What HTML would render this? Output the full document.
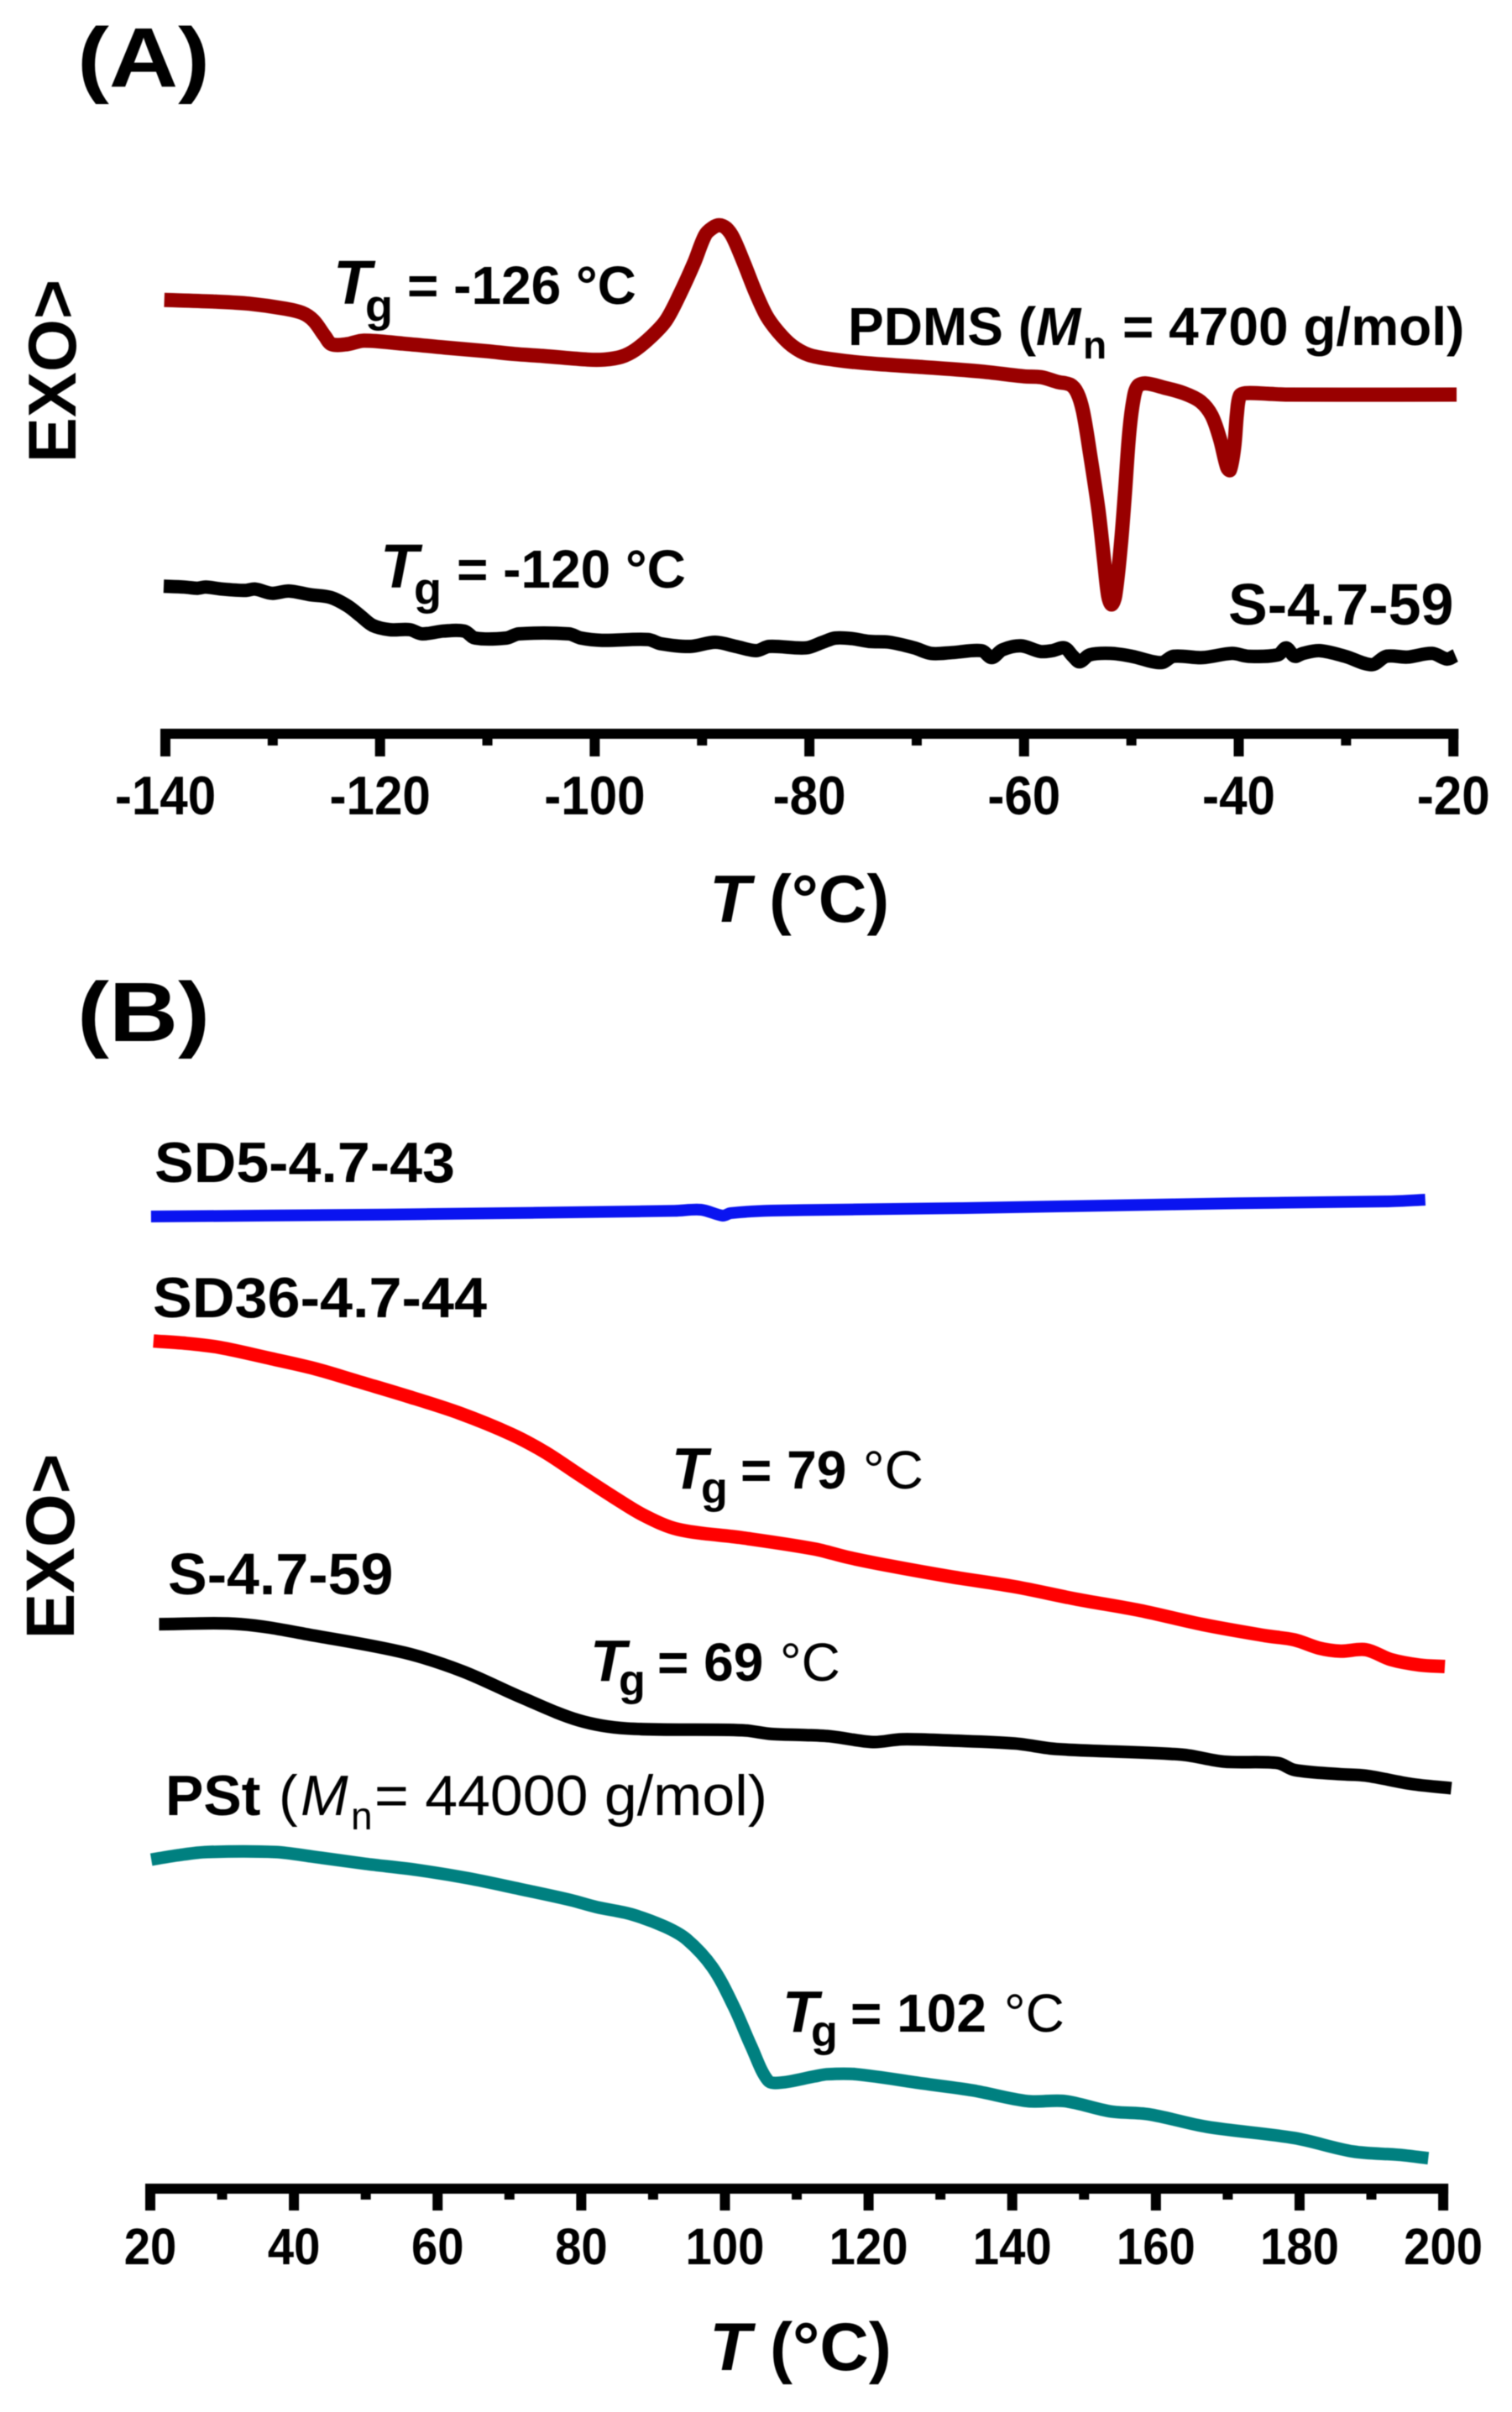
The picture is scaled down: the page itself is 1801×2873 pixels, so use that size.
<!DOCTYPE html>
<html lang="en">
<head>
<meta charset="utf-8">
<title>DSC thermograms</title>
<style>
html,body{margin:0;padding:0;background:#fff;}
svg{display:block;filter:blur(0.6px);}
text{font-family:"Liberation Sans",Arial,sans-serif;fill:#000;}
.b{font-weight:700;}
.i{font-style:italic;}
</style>
</head>
<body>
<svg id="chart" xmlns="http://www.w3.org/2000/svg" width="1801" height="2873" viewBox="0 0 1801 2873">
<rect x="0" y="0" width="1801" height="2873" fill="#fff"/>
<g id="marks"></g>

<text class="b" x="92" y="103" font-size="100" textLength="158" lengthAdjust="spacingAndGlyphs">(A)</text>
<text class="b" x="92" y="1240" font-size="100" textLength="158" lengthAdjust="spacingAndGlyphs">(B)</text>

<text class="b" transform="translate(90,442) rotate(-90)" text-anchor="middle" font-size="81">EXO&gt;</text>
<text class="b" transform="translate(88,1842) rotate(-90)" text-anchor="middle" font-size="82">EXO&gt;</text>

<text class="b" x="845" y="1098" font-size="80"><tspan class="i">T</tspan> (°C)</text>
<text class="b" x="845" y="2823" font-size="81"><tspan class="i">T</tspan> (°C)</text>

<text class="b" font-size="64"><tspan class="i" x="397" y="362" font-size="74">T</tspan><tspan x="435" y="383" font-size="54">g</tspan><tspan x="485" y="362">= -126 °C</tspan></text>
<text class="b" font-size="64"><tspan class="i" x="453" y="700" font-size="74">T</tspan><tspan x="493" y="720" font-size="54">g</tspan><tspan x="544" y="700">= -120 °C</tspan></text>
<text class="b" font-size="64"><tspan x="1010" y="411">PDMS (</tspan><tspan class="i" x="1234" y="411">M</tspan><tspan x="1290" y="427" font-size="46">n</tspan><tspan x="1337" y="411">= 4700 g/mol)</tspan></text>
<text class="b" x="1463" y="744" font-size="70">S-4.7-59</text>

<text class="b" x="184" y="1408" font-size="68" textLength="358" lengthAdjust="spacingAndGlyphs">SD5-4.7-43</text>
<text class="b" x="182" y="1569" font-size="68" textLength="398" lengthAdjust="spacingAndGlyphs">SD36-4.7-44</text>
<text class="b" x="200" y="1899" font-size="70">S-4.7-59</text>

<text class="b" font-size="64"><tspan class="i" x="800" y="1773" font-size="70">T</tspan><tspan x="835" y="1790" font-size="52">g</tspan><tspan x="882" y="1773">= 79</tspan><tspan x="1028" y="1773" font-weight="400">°C</tspan></text>
<text class="b" font-size="64"><tspan class="i" x="703" y="2002" font-size="70">T</tspan><tspan x="737" y="2019" font-size="52">g</tspan><tspan x="783" y="2002">= 69</tspan><tspan x="929" y="2002" font-weight="400">°C</tspan></text>
<text class="b" font-size="64"><tspan class="i" x="932" y="2420" font-size="70">T</tspan><tspan x="966" y="2437" font-size="52">g</tspan><tspan x="1013" y="2420">= 102</tspan><tspan x="1196" y="2420" font-weight="400">°C</tspan></text>

<text font-size="68"><tspan class="b" x="197" y="2162">PSt</tspan><tspan x="332" y="2162">(</tspan><tspan class="i" x="358" y="2162">M</tspan><tspan x="418" y="2179" font-size="46">n</tspan><tspan x="446" y="2162" textLength="468" lengthAdjust="spacingAndGlyphs">= 44000 g/mol)</tspan></text>
</svg>

<script>
// Panel A: temperature (deg C) and signal (a.u., height above the axis line)
const pdmsTemp = [-140.1,-135.33,-132.2,-128.81,-127.25,-126.21,-125.16,-124.51,-123.08,-121.52,-117.86,-113.95,-110.04,-107.46,-104.83,-100.66,-99.09,-97.53,-96.22,-94.66,-93.36,-92.05,-90.75,-89.71,-89.06,-88.4,-87.75,-87.1,-86.05,-85.01,-83.97,-82.93,-81.63,-80.06,-77.72,-74.59,-69.37,-64.15,-59.98,-58.42,-56.86,-55.68,-55.03,-54.51,-53.86,-53.08,-52.55,-52.16,-51.85,-51.51,-50.99,-50.6,-50.21,-49.82,-49.42,-48.64,-46.95,-45.12,-43.56,-42.52,-41.74,-41.08,-40.82,-40.43,-40.17,-39.91,-39.39,-37.3,-35.47,-19.7];
const pdmsSignal = [516.7,514.7,512.3,506.3,501.3,492.3,474,464,464,468.3,464.7,460,455.7,452.3,450,445.7,445.7,449,457.3,474,492.3,524,560.7,594,602.3,605.7,602.3,590.7,559,525.7,497.3,479,462.3,451.3,445.7,441.3,436.7,431.7,425.7,424.7,419,415.7,405.7,384,334,267.3,207.3,164,154,164,224,287.3,357.3,397.3,414,417.3,412.3,405.7,395.7,379,350.7,317.3,314,340.7,380.7,402.3,405.7,405,404,404];

const sAgedTemp = [-140.16,-138.2,-137.03,-136.25,-134.68,-132.57,-131.63,-130.07,-128.5,-126.55,-124.59,-123.03,-121.85,-120.68,-119.12,-117.24,-116.07,-114.11,-112.16,-111.14,-108.24,-107.07,-102.42,-101.28,-99.33,-95.03,-93.85,-91.12,-88.77,-86.85,-84.94,-83.76,-80.32,-78.76,-77.58,-76.02,-74.45,-72.54,-70.23,-68.67,-66.71,-63.97,-63.0,-62.02,-60.3,-58.5,-57.36,-56.23,-55.45,-54.82,-53.88,-51.93,-49.97,-47.24,-46.06,-43.36,-40.62,-39.1,-36.36,-35.58,-34.8,-34.02,-32.45,-30.11,-27.6,-26.23,-24.32,-21.97,-20.59,-19.81];
const sAgedSignal = [175.7,174.7,173.3,174.7,172.3,170.7,172.3,167.3,170,165.7,162.3,152.3,140.7,129,124,124,119,122.3,122.3,114,114,119,119,114,111.3,112.3,107.3,104,109,104,99,104,102.3,109,114,113.3,110,109,102.3,95.7,96.7,99,90.7,100,104.7,98,99,102.3,92.3,85.7,94,95.7,92.3,84.7,92.3,90.7,95.7,92.3,94,102.3,92.3,95.7,99,92.3,82.3,92.3,91.3,95.7,89,93.3];

// Panel B
const sd5Temp = [20.1,52.8,93,96.7,99.7,100.8,106.5,133.4,169.6,192.4,197.5];
const sd5Signal = [1158,1160.3,1164.7,1166,1159,1162,1165,1168,1173.5,1176,1178];

const sd36Temp = [20.44,24.91,29.68,36.83,42.79,48.75,55.88,63.08,70.23,75,79.72,84.52,88.72,93.49,102.4,112.45,117.13,122.91,131.62,140.38,149.03,157.79,166.52,175.21,179.3,182.81,185.73,189.24,192.69,196.72,200.23];
const sd36Signal = [1009.7,1007,1002,988.7,977,962,943.7,923.7,898.7,877,850.3,823.7,802,785.3,775.3,762,752,742,728.7,717,702,688.7,672,658.7,653.7,643.7,640.3,642,630.3,623.7,622];

const sBTemp = [21.23,32.62,43.38,55.41,63.48,71.54,79.61,86.34,102.45,106.49,111.28,114.79,120.58,124.65,131.62,140.36,146.17,163.62,169.43,176.97,179.3,185.71,189.2,195.6,201.12];
const sBSignal = [672.4,672.4,658,638.4,616.3,585.6,558,548.2,546,541.6,540.3,538.7,532,535.3,533.7,530.3,523.7,517,508.7,507,498.7,493.7,492,482,477];

const pstTemp = [20.14,23.72,27.89,37.41,42.79,49.92,57.11,64.27,71.43,78.56,82.18,86.92,91.69,94.68,98.26,101.23,103.63,106.01,107.78,112.45,114.2,118.26,127.56,134.54,142.1,147.34,153.71,158.97,167.1,179.3,187.45,193.86,197.92];
const pstSignal = [392,397,401,401,395.3,387,379.7,369.7,357,343.7,335.3,327,312,297,263.7,217,170.3,128.7,126.3,133.7,136.3,136.3,125.3,117,104.3,104.3,92,88.7,73.7,60.3,44.3,40.3,36.3];

// Tick values
const majorTicksA = [-140,-120,-100,-80,-60,-40,-20];
const minorTicksA = [-130,-110,-90,-70,-50,-30];
const tickLabelsA = ["-140","-120","-100","-80","-60","-40","-20"];
const majorTicksB = [20,40,60,80,100,120,140,160,180,200];
const minorTicksB = [30,50,70,90,110,130,150,170,190];
const tickLabelsB = ["20","40","60","80","100","120","140","160","180","200"];

const NS = "http://www.w3.org/2000/svg";
const marks = document.getElementById("marks");

function xA(t){ return 197 + (t + 140) * 12.785; }
function xB(t){ return 179 + (t - 20) * 8.556; }
function yA(v){ return 874 - v; }
function yB(v){ return 2607 - v; }

// Smooth curve through the data points (chord-length spline).
function smoothPath(temps, signals, xf, yf){
  const px = temps.map(xf);
  const py = signals.map(yf);
  const n = px.length;
  const seg = [];
  for (let i = 0; i < n - 1; i++){
    seg.push(Math.hypot(px[i + 1] - px[i], py[i + 1] - py[i]) || 1);
  }
  const tx = [], ty = [];
  for (let i = 0; i < n; i++){
    const a = Math.max(i - 1, 0), b = Math.min(i + 1, n - 1);
    let d = 0;
    for (let k = a; k < b; k++){ d += seg[k]; }
    tx.push((px[b] - px[a]) / d);
    ty.push((py[b] - py[a]) / d);
  }
  let path = "M" + px[0].toFixed(1) + " " + py[0].toFixed(1);
  for (let i = 0; i < n - 1; i++){
    const s = seg[i] / 3;
    path += "C" + (px[i] + tx[i] * s).toFixed(1) + " " + (py[i] + ty[i] * s).toFixed(1) + " " +
      (px[i + 1] - tx[i + 1] * s).toFixed(1) + " " + (py[i + 1] - ty[i + 1] * s).toFixed(1) + " " +
      px[i + 1].toFixed(1) + " " + py[i + 1].toFixed(1);
  }
  return path;
}

function drawLine(temps, signals, xf, yf, color, width, name){
  const p = document.createElementNS(NS, "path");
  p.setAttribute("d", smoothPath(temps, signals, xf, yf));
  p.setAttribute("fill", "none");
  p.setAttribute("stroke", color);
  p.setAttribute("stroke-width", width);
  p.setAttribute("stroke-linejoin", "round");
  p.setAttribute("stroke-linecap", "butt");
  
  
  marks.appendChild(p);
}

function drawRect(x, y, w, h, name){
  const r = document.createElementNS(NS, "rect");
  r.setAttribute("x", x);
  r.setAttribute("y", y);
  r.setAttribute("width", w);
  r.setAttribute("height", h);
  r.setAttribute("fill", "#000");
  
  
  marks.appendChild(r);
}

function drawAxis(major, minor, labels, xf, yTop, majorEnd, minorEnd, baseline, fontSize, axisName){
  const left = xf(major[0]) - 6;
  const right = xf(major[major.length - 1]) + 6;
  drawRect(left, yTop, right - left, 12, axisName + "-line");
  major.forEach(function(t, i){
    drawRect(xf(t) - 6, yTop, 12, majorEnd - yTop, axisName + "-major-tick");
    const tx = document.createElementNS(NS, "text");
    tx.setAttribute("transform", "translate(" + xf(t) + "," + baseline + ") scale(0.97,1.05)");
    tx.setAttribute("text-anchor", "middle");
    tx.setAttribute("font-size", fontSize);
    tx.setAttribute("font-weight", "700");
    
    
    tx.textContent = labels[i];
    marks.appendChild(tx);
  });
  minor.forEach(function(t){
    drawRect(xf(t) - 6, yTop, 12, minorEnd - yTop, axisName + "-minor-tick");
  });
}

drawLine(pdmsTemp, pdmsSignal, xA, yA, "#990000", 17, "pdms-curve");
drawLine(sAgedTemp, sAgedSignal, xA, yA, "#000000", 16, "s-4-7-59-curve-a");
drawLine(sd5Temp, sd5Signal, xB, yB, "#0a14f0", 14, "sd5-4-7-43-curve");
drawLine(sd36Temp, sd36Signal, xB, yB, "#ff0000", 16, "sd36-4-7-44-curve");
drawLine(sBTemp, sBSignal, xB, yB, "#000000", 15, "s-4-7-59-curve-b");
drawLine(pstTemp, pstSignal, xB, yB, "#008080", 15, "pst-curve");

drawAxis(majorTicksA, minorTicksA, tickLabelsA, xA, 868, 901, 888, 970, 62, "x-axis-a");
drawAxis(majorTicksB, minorTicksB, tickLabelsB, xB, 2601, 2633, 2620, 2697, 58, "x-axis-b");
</script>
</body>
</html>
